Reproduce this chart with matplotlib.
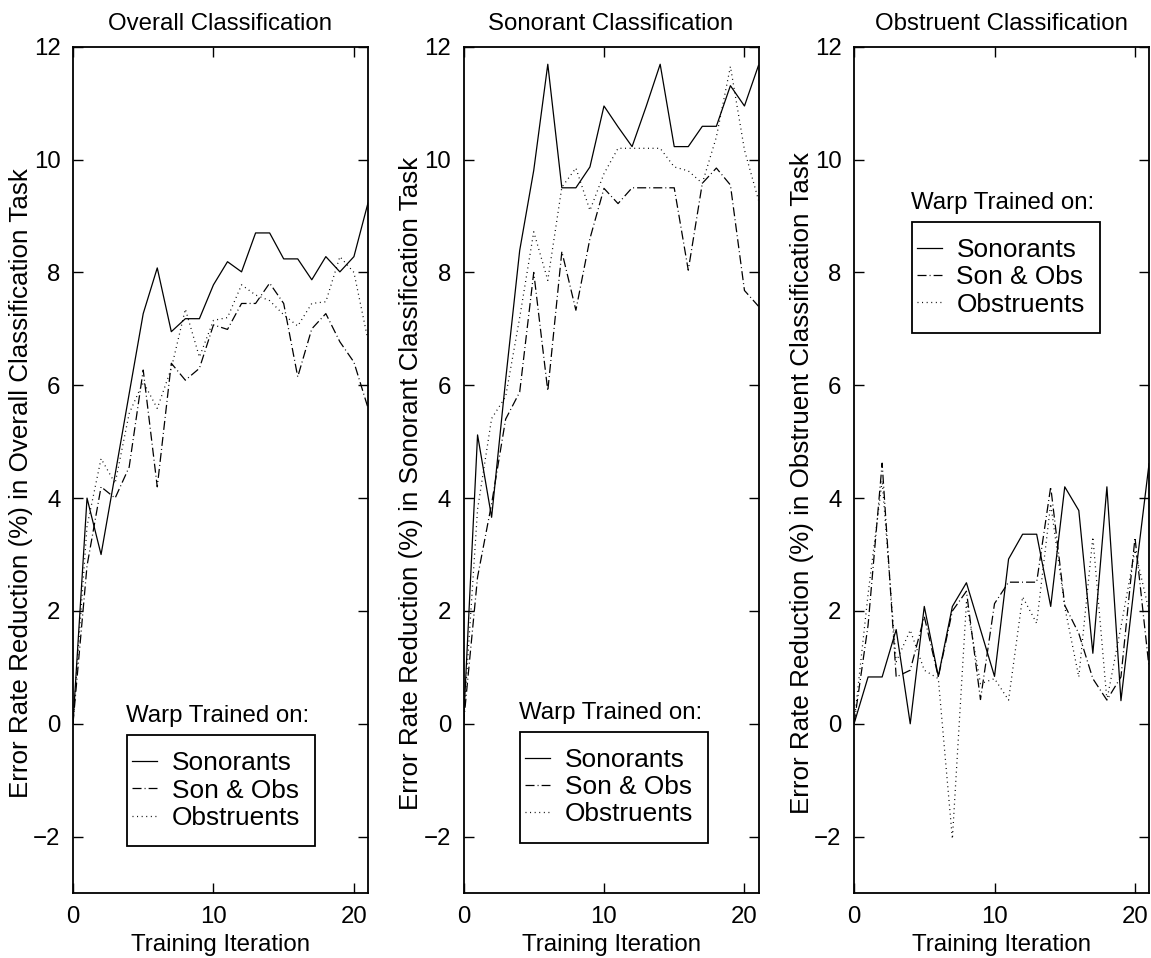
import numpy as np
import matplotlib
matplotlib.use("Agg")
import matplotlib.pyplot as plt
from matplotlib.patches import Rectangle

plt.rcParams['font.family'] = ['Liberation Sans', 'DejaVu Sans']
plt.rcParams['lines.scale_dashes'] = False

iterations = list(range(22))

# error rate reduction (%) per task, one list per warp training set
overall_son = [0, 4.0, 3.0, 4.42, 5.85, 7.27, 8.08, 6.95, 7.18, 7.18, 7.78, 8.19,
               8.01, 8.70, 8.70, 8.24, 8.24, 7.87, 8.28, 8.01, 8.28, 9.23]
overall_both = [0, 2.8, 4.2, 4.0, 4.55, 6.27, 4.2, 6.39, 6.09, 6.3, 7.07, 6.99,
                7.45, 7.45, 7.81, 7.45, 6.15, 7.0, 7.27, 6.77, 6.41, 5.6]
overall_obs = [0, 3.5, 4.7, 4.26, 5.5, 6.06, 5.59, 6.3, 7.35, 6.5, 7.15, 7.2,
               7.78, 7.6, 7.5, 7.25, 7.05, 7.45, 7.48, 8.28, 8.0, 6.8]

sonorant_son = [0, 5.12, 3.66, 6.1, 8.39, 9.81, 11.69, 9.50, 9.50, 9.87, 10.95, 10.58,
                10.23, 10.94, 11.69, 10.23, 10.23, 10.59, 10.59, 11.31, 10.95, 11.67]
sonorant_both = [0, 2.6, 3.9, 5.4, 5.88, 8.0, 5.9, 8.37, 7.33, 8.6, 9.49, 9.22,
                 9.5, 9.5, 9.5, 9.5, 8.04, 9.58, 9.85, 9.55, 7.68, 7.4]
sonorant_obs = [0, 3.8, 5.41, 5.8, 7.2, 8.72, 7.86, 9.51, 9.85, 9.1, 9.75, 10.2,
                10.2, 10.2, 10.2, 9.87, 9.8, 9.58, 10.4, 11.65, 10.17, 9.28]

obstruent_son = [0, 0.83, 0.83, 1.67, 0.0, 2.08, 0.84, 2.08, 2.5, 1.67, 0.84, 2.92,
                 3.36, 3.36, 2.08, 4.2, 3.78, 1.25, 4.2, 0.41, 2.56, 4.61]
obstruent_both = [0, 1.75, 4.62, 0.83, 0.95, 1.9, 0.83, 2.0, 2.35, 0.43, 2.13, 2.51,
                  2.51, 2.51, 4.2, 2.1, 1.6, 0.8, 0.42, 0.83, 3.3, 1.0]
obstruent_obs = [0, 2.3, 4.31, 1.1, 1.66, 0.95, 0.8, -2.04, 2.15, 0.71, 0.8, 0.42,
                 2.25, 1.78, 3.9, 2.07, 0.83, 3.31, 0.42, 1.72, 3.08, 2.0]

panels = [
    ("Overall Classification", "Overall",
     [overall_son, overall_both, overall_obs]),
    ("Sonorant Classification", "Sonorant",
     [sonorant_son, sonorant_both, sonorant_obs]),
    ("Obstruent Classification", "Obstruent",
     [obstruent_son, obstruent_both, obstruent_obs]),
]
series_labels = ["Sonorants", "Son & Obs", "Obstruents"]
series_dashes = [None, (6.5, 2.2, 0.7, 2.2), (0.7, 2.6)]

# legend box per panel: (left, bottom, right, top) in axes fraction
legend_boxes = [(0.183, 0.0555, 0.820, 0.1867),
                (0.1915, 0.0594, 0.828, 0.1906),
                (0.1956, 0.6617, 0.834, 0.793)]

fig = plt.figure(figsize=(11.51, 9.58), dpi=100)
lefts = [0.0634, 0.4027, 0.742]
fs = 17.3

for k, (title, task, series) in enumerate(panels):
    ax = fig.add_axes([lefts[k], 0.0678, 0.2563, 0.8834])
    handles = []
    for vals, lab, dsh in zip(series, series_labels, series_dashes):
        ln, = ax.plot(iterations, vals, color='black', lw=0.9, label=lab)
        if dsh is not None:
            ln.set_dashes(dsh)
        handles.append(ln)
    ax.set_xlim(0, 21)
    ax.set_ylim(-3, 12)
    ax.set_xticks([0, 10, 20])
    ax.set_yticks(range(-2, 13, 2))
    ax.tick_params(direction='in', length=7, width=1.0, top=True, right=True,
                   labelsize=fs, pad=9)
    for sp in ax.spines.values():
        sp.set_linewidth(1.3)
    ax.set_title(title, fontsize=fs, pad=12)
    ax.set_xlabel("Training Iteration", fontsize=fs, labelpad=5)
    ax.set_ylabel("Error Rate Reduction (%) in " + task + " Classification Task",
                  fontsize=18.7)
    ax.yaxis.set_label_coords(-0.136, 0.4845)

    x0, y0, x1, y1 = legend_boxes[k]
    ax.add_patch(Rectangle((x0, y0), x1 - x0, y1 - y0, transform=ax.transAxes,
                           facecolor='white', edgecolor='black', lw=1.3,
                           zorder=4))
    leg = ax.legend(handles=handles, loc='center left',
                    bbox_to_anchor=(x0 + 0.017, (y0 + y1) / 2),
                    borderaxespad=0, borderpad=0, fontsize=18.9, frameon=False,
                    handlelength=0.95, handletextpad=0.56, labelspacing=0.12)
    leg.set_zorder(5)
    ax.text((x0 + x1) / 2 - 0.01, y1 + 0.0225, "Warp Trained on:",
            transform=ax.transAxes, ha='center', va='center', fontsize=fs)

fig.savefig("out.png", dpi=100, facecolor='white')
